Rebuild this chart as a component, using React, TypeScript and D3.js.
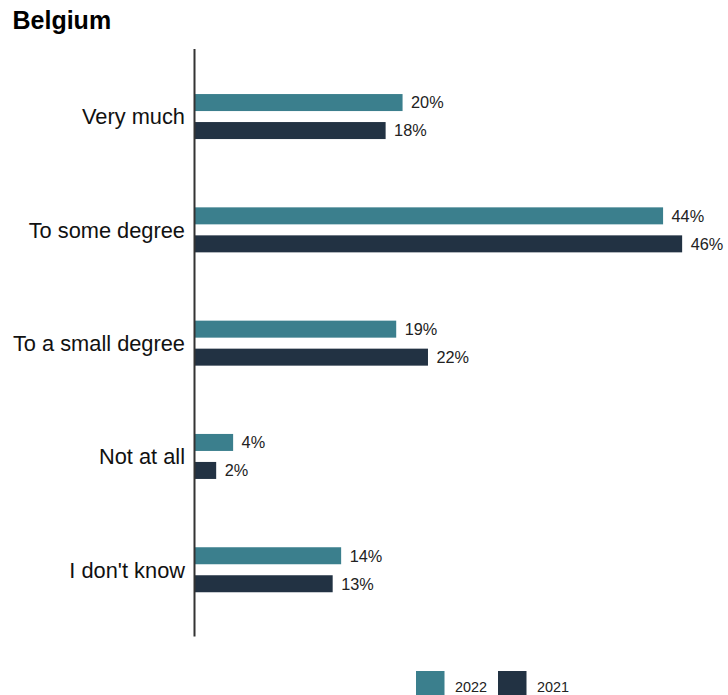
import React from "react";
import * as d3 from "d3";

const categories = ["Very much", "To some degree", "To a small degree", "Not at all", "I don't know"];
const values2022 = [19.6, 44.2, 19.0, 3.6, 13.8];
const values2021 = [18.0, 46.0, 22.0, 2.0, 13.0];
const seriesNames = ["2022", "2021"];
const seriesColors = ["#3b7f8d", "#223243"];

const W = 728;
const H = 695;

export default function App() {
  const y = d3.scaleBand<string>().domain(categories).range([59.9, 626.4]).padding(0);
  const x = d3.scaleLinear().domain([0, 50]).range([195, 724.5]);
  const barH = 17;
  const gap = 11;
  const font = "'Liberation Sans', Arial, Helvetica, sans-serif";
  const series = [values2022, values2021];

  return (
    <svg width={W} height={H} style={{ position: "absolute", left: 0, top: 0, background: "#fff" }} fontFamily={font}>
      <text x={12.5} y={28.5} fontSize={25} fontWeight="bold" fill="#000">Belgium</text>
      {categories.map((c, i) => {
        const cy = (y(c) as number) + y.bandwidth() / 2;
        return (
          <g key={c}>
            <text x={185} y={cy} dy="0.36em" textAnchor="end" fontSize={21.8} fill="#111">{c}</text>
            {series.map((vals, s) => {
              const top = s === 0 ? cy - gap / 2 - barH : cy + gap / 2;
              const v = vals[i];
              return (
                <g key={s}>
                  <rect x={x(0)} y={top} width={x(v) - x(0)} height={barH} fill={seriesColors[s]} />
                  <text x={x(v) + 8.5} y={top + barH / 2} dy="0.36em" fontSize={16.3} fill="#222">
                    {d3.format(".0f")(v) + "%"}
                  </text>
                </g>
              );
            })}
          </g>
        );
      })}
      <line x1={194.5} x2={194.5} y1={49} y2={636.5} stroke="#333" strokeWidth={2} />
      {seriesNames.map((n, s) => {
        const lx = s === 0 ? 416 : 498;
        return (
          <g key={n}>
            <rect x={lx} y={671} width={28.5} height={28.5} fill={seriesColors[s]} />
            <text x={lx + 39} y={692} fontSize={14.4} fill="#222">{n}</text>
          </g>
        );
      })}
    </svg>
  );
}
